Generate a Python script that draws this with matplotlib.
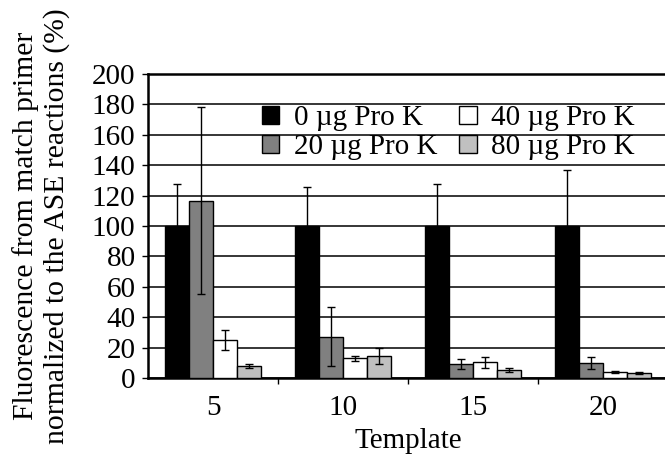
import matplotlib.pyplot as plt
import numpy as np

plt.rcParams['font.family'] = ['Liberation Serif', 'DejaVu Serif']

templates = ["5", "10", "15", "20"]
series = ["0 \u00b5g Pro K", "20 \u00b5g Pro K", "40 \u00b5g Pro K", "80 \u00b5g Pro K"]
values = [
    [100, 100, 100, 100],      # 0 ug
    [116.6, 27.2, 9.2, 10.0],  # 20 ug
    [25.0, 13.0, 10.3, 4.2],   # 40 ug
    [7.8, 14.5, 5.3, 3.1],     # 80 ug
]
errors = [
    [27.5, 25.5, 27.4, 36.8],
    [61.5, 19.3, 3.0, 4.0],
    [6.5, 1.5, 3.5, 0.6],
    [1.5, 5.5, 1.5, 0.6],
]
colors = ['black', '#808080', 'white', '#c0c0c0']

fs = 21

fig = plt.figure(figsize=(6.65, 4.55), dpi=100)
ax = fig.add_axes([148 / 665, 1 - 378 / 455, 520 / 665, 304 / 455])

x = np.arange(len(templates))
width = 0.185
for i in range(4):
    ax.bar(x + (i - 1.5) * width, values[i], width, color=colors[i],
           edgecolor='black', linewidth=1, label=series[i], zorder=3,
           yerr=errors[i], error_kw=dict(ecolor='black', lw=1, capsize=3, capthick=1, zorder=4))

ax.set_xlim(-0.5, 3.5)
ax.set_ylim(0, 200)
ax.set_yticks(np.arange(0, 201, 20))
ax.yaxis.grid(True, color='black', linewidth=1.1, zorder=0)
ax.set_axisbelow(True)

ax.set_xticks(x)
ax.set_xticklabels(templates)
ax.set_xticks([0.5, 1.5, 2.5], minor=True)
ax.tick_params(axis='x', which='major', length=0, labelsize=fs, pad=12)
ax.tick_params(axis='x', which='minor', length=4, width=1, direction='out')
ax.tick_params(axis='y', length=4, width=1, direction='out', labelsize=fs, pad=5)

for s in ['left', 'bottom', 'top']:
    ax.spines[s].set_linewidth(1.8)
ax.spines['right'].set_visible(False)

ax.set_xlabel("Template", fontsize=fs, labelpad=5)
ax.set_ylabel("Fluorescence from match primer\nnormalized to the ASE reactions (%)",
              fontsize=21.3, labelpad=16, linespacing=1.18)

ax.legend(ncol=2, loc='upper left', bbox_to_anchor=(0.196, 0.935), frameon=False,
          fontsize=fs, handlelength=0.6, handleheight=0.6, handletextpad=0.5,
          columnspacing=0.75, labelspacing=0.1, borderaxespad=0)

plt.savefig("out.png", dpi=100)
plt.close()
